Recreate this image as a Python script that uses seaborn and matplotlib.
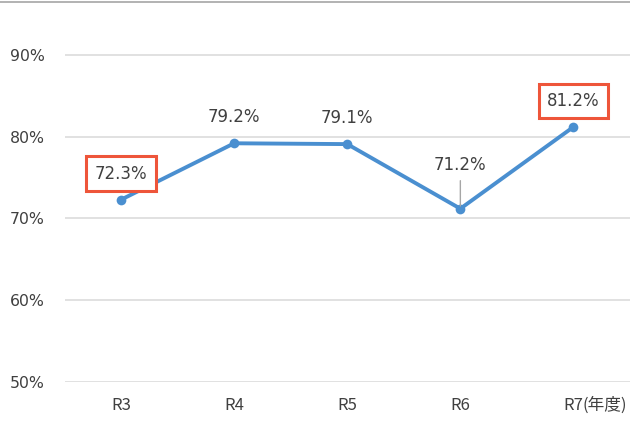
import matplotlib
matplotlib.use("Agg")
import matplotlib.pyplot as plt
import seaborn as sns
import pandas as pd
from matplotlib.lines import Line2D

years = ["R3", "R4", "R5", "R6", "R7"]
rates = [72.3, 79.2, 79.1, 71.2, 81.2]
tick_labels = ["R3", "R4", "R5", "R6", "R7"]
unit_label = "(年度)"
yticks = [50, 60, 70, 80, 90]
highlight = ["R3", "R7"]

sns.set_theme(style="white")
plt.rcParams['font.family'] = ['Noto Sans CJK JP', 'DejaVu Sans']

df = pd.DataFrame({"year": years, "rate": rates})

fig = plt.figure(figsize=(6.3, 4.23), dpi=100)
ax = fig.add_axes([64.5/630, 41/423, 565.5/630, 379/423])

ax.set_ylim(50, 96.36)
ax.set_yticks(yticks)
ax.set_yticklabels([f"{v}%" for v in yticks], family=['DejaVu Sans'], fontsize=11.3)
ax.yaxis.grid(True, color="#d9d9d9", linewidth=1.1)
ax.set_axisbelow(True)

sns.lineplot(data=df, x="year", y="rate", ax=ax, color="#4a8fd0", linewidth=2.8,
             marker="o", markersize=7, markeredgewidth=0, sort=False)
ax.set_xlim(-0.5, 4.5)
ax.set_xticks(range(len(years)))
ax.set_xticklabels(tick_labels, fontsize=12)
ax.set_xlabel("")
ax.set_ylabel("")
for s in ax.spines.values():
    s.set_visible(False)
ax.tick_params(axis="both", length=0, colors="#404040")
ax.tick_params(axis="y", pad=14)
ax.tick_params(axis="x", pad=11)

# unit appended after the last category label
last = len(years) - 1
xlab = ax.get_xticklabels()[last]
ax.annotate(unit_label, xy=(last, 0), xycoords=ax.get_xaxis_transform(),
            xytext=(6.5, -23 * 72 / 100), textcoords="offset points",
            ha="left", va="center", fontsize=12, color="#404040")

for i, (yr, v) in enumerate(zip(years, rates)):
    off = 44 if yr == "R6" else 26
    bbox = None
    if yr in highlight:
        bbox = dict(boxstyle="square,pad=0.5", facecolor="white",
                    edgecolor="#ee553a", linewidth=2.2)
    ax.annotate(f"{v}%", xy=(i, v), xytext=(0, off * 72 / 100),
                textcoords="offset points", ha="center", va="center",
                fontsize=12, family=['DejaVu Sans'], color="#404040", bbox=bbox, zorder=5)
    if yr == "R6":
        ax.annotate("", xy=(i, v), xytext=(0, 28 * 72 / 100),
                    textcoords="offset points",
                    arrowprops=dict(arrowstyle="-", color="#a6a6a6", lw=1,
                                    shrinkA=0, shrinkB=2))

fig.add_artist(Line2D([0, 1], [1 - 2/423, 1 - 2/423], color="#a6a6a6", linewidth=1.2,
                      transform=fig.transFigure))

fig.savefig("out.png", dpi=100)
